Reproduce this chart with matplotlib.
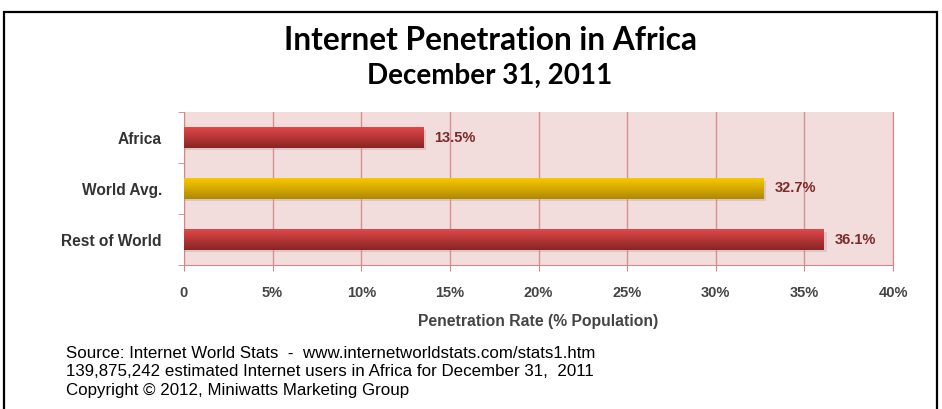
import numpy as np
import matplotlib.pyplot as plt
from matplotlib.colors import LinearSegmentedColormap
from matplotlib.patches import Rectangle

regions = ['Africa', 'World Avg.', 'Rest of World']
rates = [13.5, 32.7, 36.1]
bar_cols = [('#e04848', '#8a2424'), ('#f8c800', '#b08800'), ('#e04848', '#8a2424')]
xticks = [0, 5, 10, 15, 20, 25, 30, 35, 40]
xtick_labels = ['0'] + ['%d%%' % t for t in xticks[1:]]

plt.rcParams['font.family'] = ['Liberation Sans', 'DejaVu Sans']

fig = plt.figure(figsize=(9.42, 4.09), dpi=100)
ax = fig.add_axes([184 / 942, 1 - 265 / 409, 709 / 942, 153 / 409])
ax.set_facecolor('#f2dcdc')

y = np.arange(len(regions))
h = 0.40
grad = np.linspace(0, 1, 64).reshape(-1, 1)
for i, (r, v) in enumerate(zip(regions, rates)):
    # soft shadow under the bar
    ax.barh(i + 0.05, v + 0.15, height=h, color='#b0a0a0', alpha=0.35, zorder=2, lw=0)
    bar = ax.barh(i, v, height=h, color=bar_cols[i][1], zorder=3, lw=0)[0]
    cm = LinearSegmentedColormap.from_list('g%d' % i, [bar_cols[i][0], bar_cols[i][1]])
    im = ax.imshow(grad, cmap=cm, aspect='auto', extent=[0, v, i + h / 2, i - h / 2], zorder=4)
    im.set_clip_path(bar)
    ax.text(v + 0.6, i, '%.1f%%' % v, va='center', ha='left', fontsize=10.5,
            fontweight='bold', color='#7a2a2a', zorder=5)

ax.set_xlim(0, 40)
ax.set_ylim(2.5, -0.5)
ax.set_xticks(xticks)
ax.set_xticklabels(xtick_labels, fontsize=10.5, fontweight='bold', color='#444444')
ax.set_yticks(y)
ax.set_yticklabels(regions, fontsize=11.2, fontweight='bold', color='#333333')
ax.set_yticks([-0.5, 0.5, 1.5, 2.5], minor=True)
ax.tick_params(axis='y', which='major', length=0, pad=16)
ax.tick_params(axis='y', which='minor', length=4, color='#d08888', direction='out')
ax.tick_params(axis='x', length=4, color='#d08888', pad=11)
ax.grid(axis='x', color='#d89090', lw=1, zorder=1)
ax.set_axisbelow(True)
ax.spines['top'].set_visible(False)
for s in ['left', 'right', 'bottom']:
    ax.spines[s].set_color('#d08888')

ax.set_xlabel('Penetration Rate (% Population)', fontsize=11.3, fontweight='bold',
              color='#444444', labelpad=10)

fig.text(490 / 942, 1 - 41 / 409, 'Internet Penetration in Africa', ha='center', va='center',
         fontsize=22.8, fontweight='bold', family='Lato', color='black')
fig.text(490 / 942, 1 - 76 / 409, 'December 31, 2011', ha='center', va='center',
         fontsize=20, fontweight='bold', family='Lato', color='black')

notes = ['Source: Internet World Stats  -  www.internetworldstats.com/stats1.htm',
         '139,875,242 estimated Internet users in Africa for December 31,  2011',
         'Copyright \u00a9 2012, Miniwatts Marketing Group']
for k, line in enumerate(notes):
    fig.text(66 / 942, 1 - (353 + 19 * k) / 409, line, ha='left', va='center',
             fontsize=12.2, color='black')

fig.patches.append(Rectangle((4 / 942, -0.1), 933 / 942, 1 - 12 / 409 + 0.1,
                             transform=fig.transFigure, fill=False, ec='black', lw=1.6))

fig.savefig('out.png', dpi=100)
